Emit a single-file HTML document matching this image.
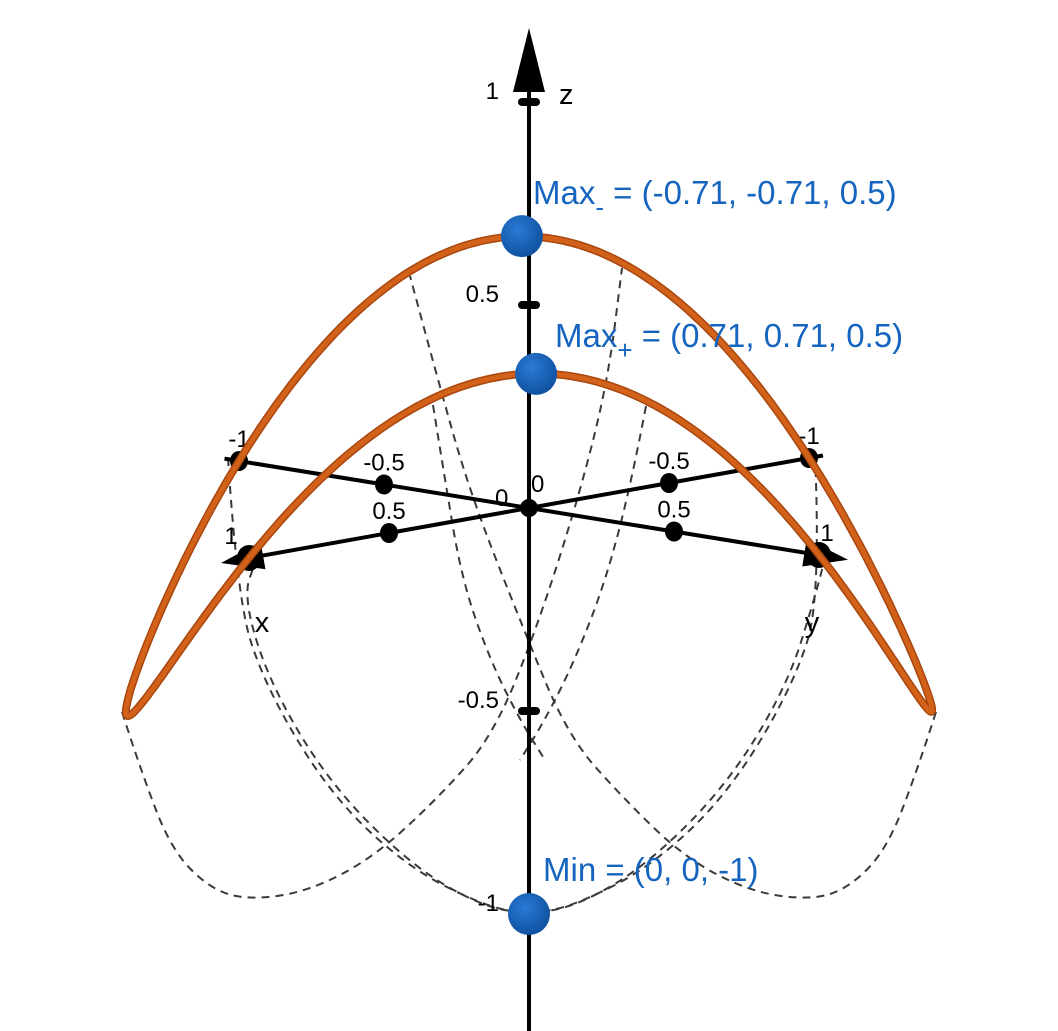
<!DOCTYPE html>
<html><head><meta charset="utf-8"><style>
html,body{margin:0;padding:0;background:#fff}
svg{display:block;font-family:"Liberation Sans",sans-serif}
</style></head><body>
<svg id="plot" width="1058" height="1031" viewBox="0 0 1058 1031" xmlns="http://www.w3.org/2000/svg">
<defs>
<radialGradient id="ball" cx="0.4" cy="0.35" r="0.7"><stop offset="0" stop-color="#2a7ad6"/><stop offset="1" stop-color="#0d4f9c"/></radialGradient>
</defs>
<g id="dashed" fill="none" stroke="#3a3a3a" stroke-width="2" stroke-dasharray="8,6"></g>
<g id="axes"></g>
<g id="curve"></g>
<g id="points"></g>
</svg>
<script>
const ticks=[-1,-0.5,0.5,1];
const tickLabels=["-1","-0.5","0.5","1"];
const pointNames=["Max","Max","Min"];
const pointSubs=["-","+",""];
const pointX=[-0.71,0.71,0];
const pointY=[-0.71,0.71,0];
const pointZ=[0.5,0.5,-1];
const dashedCurves=[
[[122,712],[141,771],[171,849],[209,888],[247,900],[307,892],[373,858],[439,797],[493,736],[537,628],[580,493],[608,380],[622,268]],
[[936,712],[917,771],[887,849],[849,888],[811,900],[751,892],[685,858],[622,797],[568,736],[523,628],[470,493],[438,380],[410,276]],
[[228,458],[237,597],[264,684],[329,793],[406,866],[482,905],[526,914],[575,907],[646,866],[728,784],[788,684],[815,597],[826,554]],
[[815,455],[821,597],[794,684],[729,793],[652,866],[576,905],[532,914],[483,907],[412,866],[330,784],[270,684],[243,597],[256,560]],
[[433,405],[445,480],[462,580],[490,660],[520,720],[545,760]],
[[646,406],[632,480],[606,580],[575,660],[545,720],[520,760]]
];
const NS="http://www.w3.org/2000/svg";
const O=[529,508], UX=[-280,50], UY=[290,47], UZ=[0,-406];
function P(x,y,z){return [O[0]+x*UX[0]+y*UY[0]+z*UZ[0], O[1]+x*UX[1]+y*UY[1]+z*UZ[1]];}
function mk(tag,attrs,parent){const e=document.createElementNS(NS,tag);for(const k in attrs)e.setAttribute(k,attrs[k]);parent.appendChild(e);return e;}
const dashed=document.getElementById('dashed');
dashedCurves.forEach((c,i)=>{
  let d='M'+c[0].join(',');
  for(let j=1;j<c.length-1;j++){const m=[(c[j][0]+c[j+1][0])/2,(c[j][1]+c[j+1][1])/2];d+=' Q'+c[j].join(',')+' '+m.join(',');}
  d+=' L'+c[c.length-1].join(',');
  const p=mk('path',{d:d},dashed);
  
  
});
const axes=document.getElementById('axes');
let zl=mk('line',{x1:529,y1:1031,x2:529,y2:60,stroke:'#000','stroke-width':4},axes);

let za=mk('polygon',{points:'529,28 513,92 545,92',fill:'#000'},axes);

let zt=mk('text',{x:559,y:104,'font-size':29},axes);zt.textContent='z';

ticks.forEach((v,i)=>{
  const p=P(0,0,v);
  const r=mk('rect',{x:p[0]-11,y:p[1]-4,width:22,height:8,rx:4,fill:'#000'},axes);
  
  const t=mk('text',{x:p[0]-30,y:p[1]-3,'font-size':24,'text-anchor':'end'},axes);t.textContent=tickLabels[i];
  
});
[['x',UX],['y',UY]].forEach(([name,u])=>{
  const a=name==='x'?P(-1.05,0,0):P(0,-1.05,0);
  const b=name==='x'?P(1.08,0,0):P(0,1.08,0);
  const l=mk('line',{x1:a[0],y1:a[1],x2:b[0],y2:b[1],stroke:'#000','stroke-width':4},axes);
  
  const e=name==='x'?P(1.1,0,0):P(0,1.1,0), s=name==='x'?P(0.95,0,0):P(0,0.95,0);
  const dx=e[0]-s[0],dy=e[1]-s[1],L=Math.hypot(dx,dy),nx=-dy/L*14,ny=dx/L*14;
  const ar=mk('polygon',{points:`${e[0]},${e[1]} ${s[0]+nx},${s[1]+ny} ${s[0]-nx},${s[1]-ny}`,fill:'#000'},axes);
  
  ticks.forEach((v,i)=>{
    const p=name==='x'?P(v,0,0):P(0,v,0);
    const c=mk('ellipse',{cx:p[0],cy:p[1],rx:v===1?12:9,ry:v===1?13:10,fill:'#000'},axes);
    
    const t=mk('text',{x:p[0]+(v===1?(name==='x'?-18:8):0),y:p[1]-14,'font-size':24,'text-anchor':'middle'},axes);t.textContent=tickLabels[i];
    
  });
  const lp=name==='x'?[262,632]:[812,632];
  const tt=mk('text',{x:lp[0],y:lp[1],'font-size':29,'text-anchor':'middle'},axes);tt.textContent=name;
  
});
let o1=mk('circle',{cx:529,cy:508,r:9,fill:'#000'},axes);

let o2=mk('text',{x:495,y:506,'font-size':24},axes);o2.textContent='0';

let o3=mk('text',{x:531,y:492,'font-size':24},axes);o3.textContent='0';

const cg=document.getElementById('curve');
let d='';
for(let k=0;k<=360;k++){const t=k*Math.PI/180;const p=P(Math.cos(t),Math.sin(t),Math.cos(t)*Math.sin(t));d+=(k?'L':'M')+p[0].toFixed(1)+','+p[1].toFixed(1);}
let cp=mk('path',{d:d+'Z',fill:'none',stroke:'#a8460e','stroke-width':8,'stroke-linejoin':'round'},cg);

let cp2=mk('path',{d:d+'Z',fill:'none',stroke:'#d2621a','stroke-width':5,'stroke-linejoin':'round'},cg);

const pg=document.getElementById('points');
const labelPos=[[533,204],[555,347],[543,881]];
pointX.forEach((x,i)=>{
  const p=P(x,pointY[i],pointZ[i]);
  const c=mk('circle',{cx:p[0],cy:p[1],r:21,fill:'url(#ball)'},pg);
  
  
  const t=mk('text',{x:labelPos[i][0],y:labelPos[i][1],'font-size':33,fill:'#1565c0'},pg);
  
  
  t.appendChild(document.createTextNode(pointNames[i]));
  if(pointSubs[i]){const s=mk('tspan',{dy:12,'font-size':26},t);s.textContent=pointSubs[i];const s2=mk('tspan',{dy:-12},t);s2.textContent=' = (';}
  else{const s2=mk('tspan',{},t);s2.textContent=' = (';}
  const s3=mk('tspan',{},t);s3.textContent=x+', '+pointY[i]+', '+pointZ[i]+')';
});
</script>
</body></html>
